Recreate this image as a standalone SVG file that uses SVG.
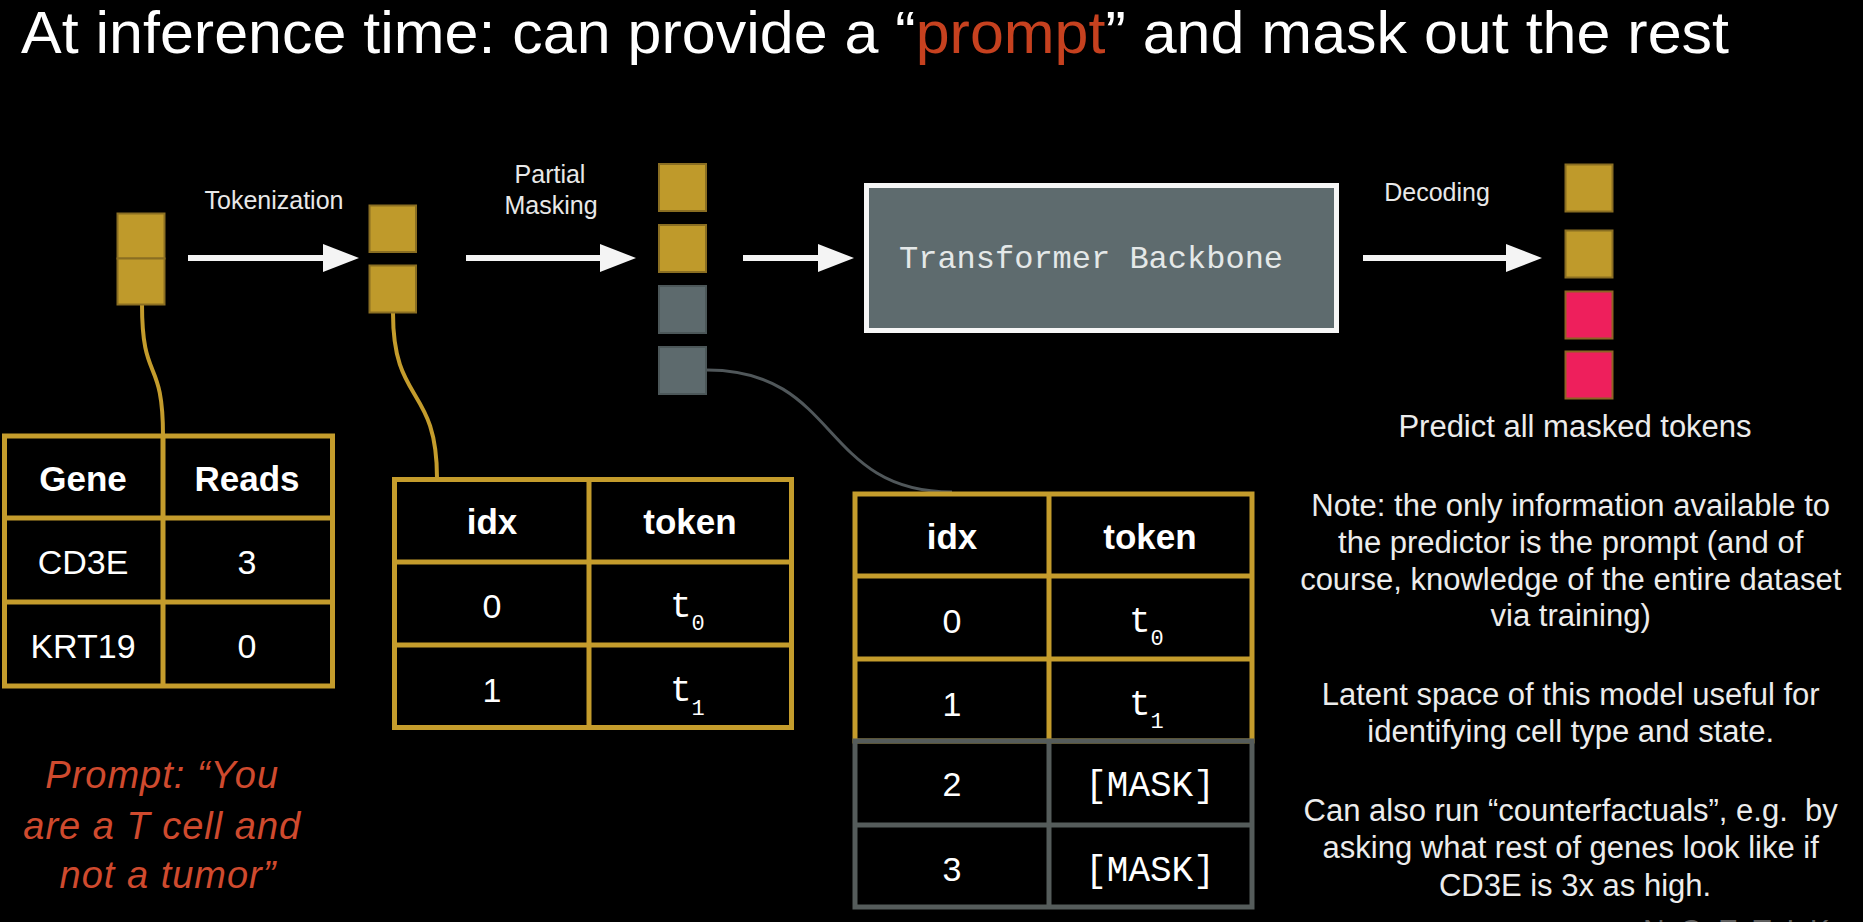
<svg xmlns="http://www.w3.org/2000/svg" width="1863" height="922" viewBox="0 0 1863 922">
<defs>
<marker id="ah" markerUnits="userSpaceOnUse" viewBox="0 0 36 28" markerWidth="36" markerHeight="28" refX="3" refY="14" orient="auto">
<path d="M0,0 L36,14 L0,28 z" fill="#f4f4f4"/>
</marker>
<style>
.sans{font-family:"Liberation Sans",Arial,sans-serif}
.mono{font-family:"Liberation Mono","DejaVu Sans Mono",monospace}
.lbl{font-family:"Liberation Sans",Arial,sans-serif;font-size:25px;fill:#e8e8e8;text-anchor:middle}
.gold{fill:#bf9a2b;stroke:#8a6e22;stroke-width:2}
.grey{fill:#5d6a6d;stroke:#4c5759;stroke-width:2}
.pink{fill:#ee1f5c;stroke:#8d6424;stroke-width:2}
.tg{fill:none;stroke:#c49c2c;stroke-width:5}
.tgr{fill:none;stroke:#555c5b;stroke-width:5}
.hd{font-family:"Liberation Sans",Arial,sans-serif;font-size:35px;font-weight:bold;fill:#fff;text-anchor:middle}
.cell{font-family:"Liberation Sans",Arial,sans-serif;font-size:34px;fill:#fff;text-anchor:middle}
.tk{font-family:"Liberation Mono","DejaVu Sans Mono",monospace;font-size:36px;fill:#fff}
.sub{font-size:22px}
.note{font-family:"Liberation Sans",Arial,sans-serif;font-size:31px;fill:#ececec;text-anchor:middle}
.arr{stroke:#f4f4f4;stroke-width:6;fill:none;marker-end:url(#ah)}
</style>
</defs>
<rect x="0" y="0" width="1863" height="922" fill="#000"/>

<g id="title">
<text class="sans" x="21" y="53" font-size="59" fill="#fff" textLength="1708" lengthAdjust="spacingAndGlyphs">At inference time: can provide a “<tspan fill="#c6411f">prompt</tspan>” and mask out the rest</text>
</g>

<g id="connectors">
<line class="arr" x1="188" y1="258" x2="326" y2="258"/>
<line class="arr" x1="466" y1="258" x2="603" y2="258"/>
<line class="arr" x1="743" y1="258" x2="821" y2="258"/>
<line class="arr" x1="1363" y1="258" x2="1509" y2="258"/>
<path d="M142,304 C142,385 163,355 163,436" fill="none" stroke="#c49c2c" stroke-width="4"/>
<path d="M393,313 C393,405 437,385 437,478" fill="none" stroke="#c49c2c" stroke-width="4"/>
<path d="M707,370 C840,370 820,492 952,492" fill="none" stroke="#50575a" stroke-width="3"/>
</g>

<g id="label-tokenization"><text class="lbl" x="274" y="209">Tokenization</text></g>
<g id="label-partial-masking"><text class="lbl" x="550" y="183">Partial</text><text class="lbl" x="551" y="214">Masking</text></g>
<g id="label-decoding"><text class="lbl" x="1437" y="201">Decoding</text></g>

<g id="genes-stack">
<rect class="gold" x="117.5" y="213.5" width="47" height="45"/>
<rect class="gold" x="117.5" y="258.5" width="47" height="46"/>
</g>
<g id="tokens-stack">
<rect class="gold" x="369.5" y="205.5" width="46.5" height="46.5"/>
<rect class="gold" x="369.5" y="265.5" width="46.5" height="47"/>
</g>
<g id="masked-stack">
<rect class="gold" x="659" y="164" width="47" height="47"/>
<rect class="gold" x="659" y="225" width="47" height="47"/>
<rect class="grey" x="659" y="286" width="47" height="47"/>
<rect class="grey" x="659" y="347" width="47" height="47"/>
</g>

<g id="transformer">
<rect x="866.5" y="185.5" width="470" height="145" fill="#5e6b6e" stroke="#f6f6f6" stroke-width="5"/>
<text class="mono" x="1091" y="268" font-size="32" fill="#e4e8e8" text-anchor="middle">Transformer Backbone</text>
</g>

<g id="output-stack">
<rect class="gold" x="1565.5" y="164.5" width="47" height="47"/>
<rect class="gold" x="1565.5" y="230.5" width="47" height="47"/>
<rect class="pink" x="1565.5" y="291.5" width="47" height="47"/>
<rect class="pink" x="1565.5" y="351.5" width="47" height="47"/>
</g>

<g id="table-genes">
<rect class="tg" x="4.5" y="436" width="328" height="250"/>
<line class="tg" x1="163" y1="436" x2="163" y2="686"/>
<line class="tg" x1="4.5" y1="518" x2="332.5" y2="518"/>
<line class="tg" x1="4.5" y1="602" x2="332.5" y2="602"/>
<text class="hd" x="83" y="491">Gene</text>
<text class="hd" x="247" y="491">Reads</text>
<text class="cell" x="83" y="574">CD3E</text>
<text class="cell" x="247" y="574">3</text>
<text class="cell" x="83" y="658">KRT19</text>
<text class="cell" x="247" y="658">0</text>
</g>

<g id="table-tokens">
<rect class="tg" x="394.5" y="479.5" width="397" height="248"/>
<line class="tg" x1="589" y1="479.5" x2="589" y2="727.5"/>
<line class="tg" x1="394.5" y1="562" x2="791.5" y2="562"/>
<line class="tg" x1="394.5" y1="645" x2="791.5" y2="645"/>
<text class="hd" x="492" y="534">idx</text>
<text class="hd" x="690" y="534">token</text>
<text class="cell" x="492" y="618">0</text>
<text class="tk" x="670" y="617">t<tspan class="sub" dy="13">0</tspan></text>
<text class="cell" x="492" y="702">1</text>
<text class="tk" x="670" y="701">t<tspan class="sub" dy="14">1</tspan></text>
</g>

<g id="table-masked">
<rect class="tg" x="855" y="494" width="397" height="247"/>
<line class="tg" x1="1049" y1="494" x2="1049" y2="741"/>
<line class="tg" x1="855" y1="576" x2="1252" y2="576"/>
<line class="tg" x1="855" y1="659" x2="1252" y2="659"/>
<rect class="tgr" x="855" y="741" width="397" height="166"/>
<line class="tgr" x1="1049" y1="741" x2="1049" y2="907"/>
<line class="tgr" x1="855" y1="825" x2="1252" y2="825"/>
<text class="hd" x="952" y="549">idx</text>
<text class="hd" x="1150" y="549">token</text>
<text class="cell" x="952" y="633">0</text>
<text class="tk" x="1129" y="632">t<tspan class="sub" dy="13">0</tspan></text>
<text class="cell" x="952" y="716">1</text>
<text class="tk" x="1129" y="715">t<tspan class="sub" dy="13">1</tspan></text>
<text class="cell" x="952" y="796">2</text>
<text class="tk" x="1150" y="796" font-size="35" text-anchor="middle">[MASK]</text>
<text class="cell" x="952" y="881">3</text>
<text class="tk" x="1150" y="881" font-size="35" text-anchor="middle">[MASK]</text>
</g>

<g id="prompt-text">
<text class="sans" font-size="38" font-style="italic" fill="#cf4a2e" text-anchor="middle" letter-spacing="1">
<tspan x="168" y="788">Prompt: “You</tspan>
<tspan x="168" y="839">are a T cell and</tspan>
<tspan x="168" y="888">not a tumor”</tspan>
</text>
</g>

<g id="notes">
<text class="note" x="1575" y="437">Predict all masked tokens</text>
<text class="note">
<tspan x="1575" y="516">Note: the only information available to</tspan>
<tspan x="1575" y="553">the predictor is the prompt (and of</tspan>
<tspan x="1575" y="590">course, knowledge of the entire dataset</tspan>
<tspan x="1575" y="626">via training)</tspan>
<tspan x="1575" y="705">Latent space of this model useful for</tspan>
<tspan x="1575" y="742">identifying cell type and state.</tspan>
<tspan x="1575" y="821">Can also run “counterfactuals”, e.g.&#160; by</tspan>
<tspan x="1575" y="858">asking what rest of genes look like if</tspan>
<tspan x="1575" y="896">CD3E is 3x as high.</tspan>
</text>
</g>

<g id="watermark">
<text class="sans" x="1643" y="940" font-size="30" fill="#5e5e5e" letter-spacing="15">NOETIK</text>
</g>
</svg>
